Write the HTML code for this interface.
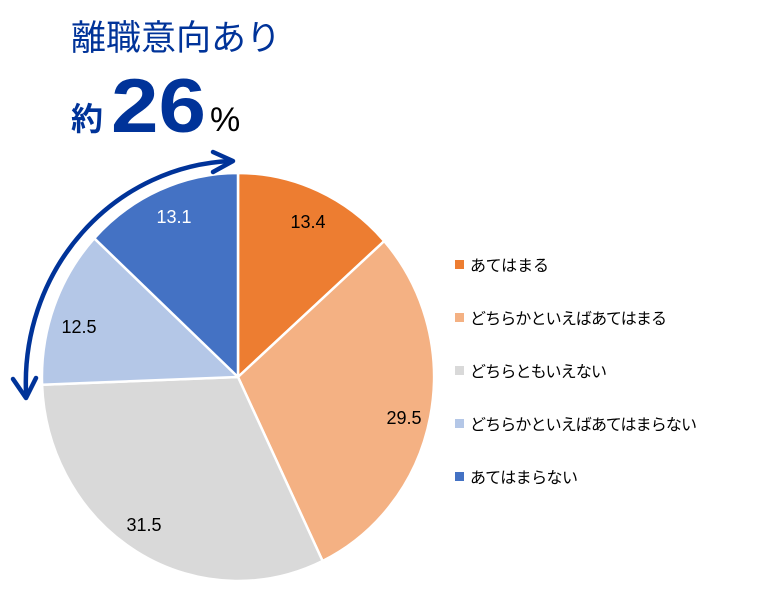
<!DOCTYPE html>
<html><head><meta charset="utf-8"><style>
html,body{margin:0;padding:0;background:#fff;}
body{width:760px;height:601px;overflow:hidden;position:relative;font-family:"Liberation Sans","Noto Sans CJK JP",sans-serif;}
</style></head><body>
<svg width="760" height="601" viewBox="0 0 760 601" style="position:absolute;left:0;top:0">
<g stroke="#fff" stroke-width="2.5" stroke-linejoin="round">
<path d="M238 377 L238 173 A196 204 0 0 1 384.2 241.1 Z" fill="#ED7D31"/>
<path d="M238 377 L384.2 241.1 A196 204 0 0 1 322.6 561 Z" fill="#F4B183"/>
<path d="M238 377 L322.6 561 A196 204 0 0 1 42.1 384.7 Z" fill="#D9D9D9"/>
<path d="M238 377 L42.1 384.7 A196 204 0 0 1 94.3 238.3 Z" fill="#B4C7E7"/>
<path d="M238 377 L94.3 238.3 A196 204 0 0 1 238 173 Z" fill="#4472C4"/>
</g>
<g font-family="Liberation Sans, Noto Sans CJK JP, sans-serif" font-size="18" text-anchor="middle">
<text x="308" y="228" fill="#000">13.4</text>
<text x="404" y="424" fill="#000">29.5</text>
<text x="144" y="531" fill="#000">31.5</text>
<text x="79" y="333" fill="#000">12.5</text>
<text x="174" y="223" fill="#fff">13.1</text>
</g>
<g fill="none" stroke="#003399" stroke-width="4.5" stroke-linecap="round" stroke-linejoin="round">
<path d="M26 392 A214 222 0 0 1 230 161"/>
<path d="M213 152 L233 161 L213 172"/>
<path d="M13 379 L26 398 L36 378"/>
</g>
<rect x="455" y="260" width="9" height="9" fill="#ED7D31"/>
<rect x="455" y="313" width="9" height="9" fill="#F4B183"/>
<rect x="455" y="366" width="9" height="9" fill="#D9D9D9"/>
<rect x="455" y="419" width="9" height="9" fill="#B4C7E7"/>
<rect x="455" y="472" width="9" height="9" fill="#4472C4"/>
<g font-family="Liberation Sans, Noto Sans CJK JP, sans-serif" font-size="16" fill="#000">
<text x="470" y="271" textLength="79">あてはまる</text>
<text x="470" y="324" textLength="197">どちらかといえばあてはまる</text>
<text x="470" y="377" textLength="137">どちらともいえない</text>
<text x="470" y="430" textLength="227">どちらかといえばあてはまらない</text>
<text x="470" y="483" textLength="108">あてはまらない</text>
</g>
<g font-family="Liberation Sans, Noto Sans CJK JP, sans-serif">
<text x="71" y="50" font-size="35" fill="#003399">離職意向あり</text>
<text x="71" y="130" font-size="32" font-weight="bold" fill="#003399">約</text>
<text x="111" y="132" font-size="76" font-weight="bold" fill="#003399" textLength="95" lengthAdjust="spacingAndGlyphs">26</text>
<text x="210" y="131" font-size="34" fill="#000">%</text>
</g>
</svg>
</body></html>
